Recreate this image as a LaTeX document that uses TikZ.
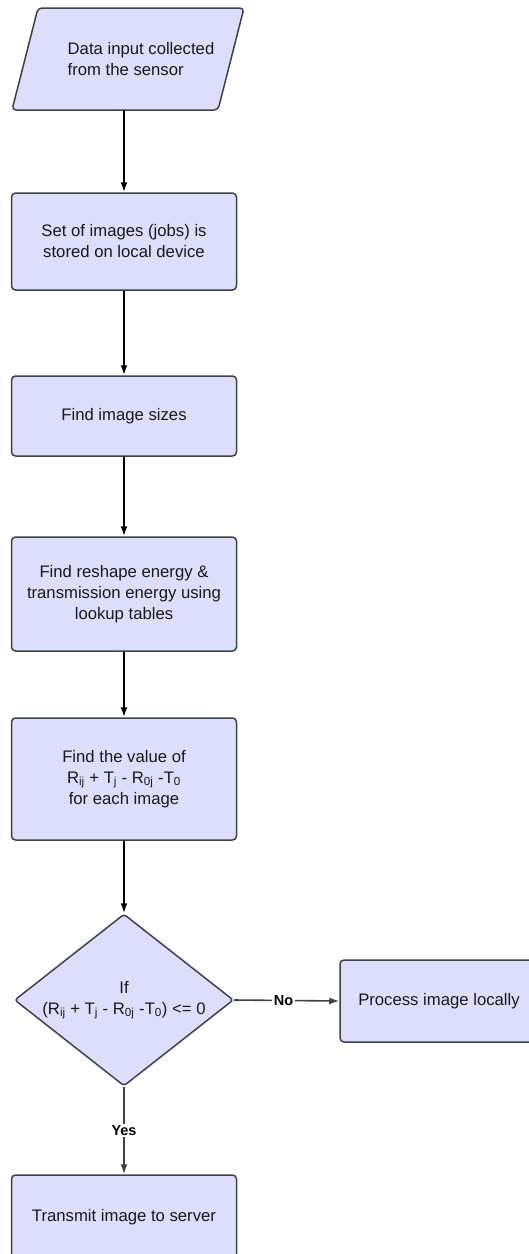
\documentclass[tikz,border=0pt]{standalone}
\usepackage{fontspec}
\setmainfont{Liberation Sans}
\usetikzlibrary{arrows.meta,shapes.geometric}
\definecolor{boxfill}{RGB}{221,222,251}
\definecolor{boxline}{RGB}{61,66,74}
\definecolor{txt}{RGB}{25,25,25}
\begin{document}
\begin{tikzpicture}[x=1pt,y=-1pt,
 proc/.style={draw=boxline, fill=boxfill, line width=1.5pt, rounded corners=4pt, minimum width=225pt, inner sep=0, align=center, font=\fontsize{16.7}{21}\selectfont, text=txt},
 plain/.style={align=center, font=\fontsize{16.7}{21}\selectfont, text=txt, inner sep=0},
 flow/.style={draw=black, line width=1.8pt, -{Latex[length=10pt,width=7pt]}},
 flowg/.style={draw=boxline, line width=1.6pt, -{Latex[length=10pt,width=7pt]}},
 lbl/.style={fill=white, inner sep=1.5pt, font=\bfseries\fontsize{14.5}{17}\selectfont, text=black}]
\useasboundingbox (0,0) rectangle (528,1254);
% input parallelogram
\draw[draw=boxline, fill=boxfill, line width=1.5pt, rounded corners=4pt] (38,8) -- (244,8) -- (218,110) -- (12,110) -- cycle;
\node[inner sep=0, minimum width=206pt, minimum height=102pt] (input) at (128,59) {};
\node[plain, align=left] (inputtxt) at (141,59) {Data input collected\\from the sensor};
% process boxes
\node[proc, minimum height=97pt] (store) at (124,241.5) {Set of images (jobs) is\\stored on local device};
\node[proc, minimum height=80pt] (sizes) at (124,416) {Find image sizes};
\node[proc, minimum height=114pt] (energy) at (124,594) {Find reshape energy \&\\transmission energy using\\lookup tables};
\node[proc, minimum height=122pt] (value) at (124,779) {Find the value of\\R\textsubscript{ij} + T\textsubscript{j} - R\textsubscript{0j} -T\textsubscript{0}\\for each image};
% decision
\node[diamond, draw=boxline, fill=boxfill, line width=1.5pt, rounded corners=3pt, minimum width=219pt, minimum height=172pt, inner sep=0] (dec) at (124,1000) {};
\node[plain] (dectxt) at (dec.center) {If\\(R\textsubscript{ij} + T\textsubscript{j} - R\textsubscript{0j} -T\textsubscript{0}) <= 0};
\node[proc, minimum width=198pt, minimum height=82pt] (local) at (439,1001) {Process image locally};
\node[proc, minimum height=84pt] (server) at (124,1217) {Transmit image to server};
% connectors
\draw[flow] (input.south -| store.north) -- (store.north);
\draw[flow] (store) -- (sizes);
\draw[flow] (sizes) -- (energy);
\draw[flow] (energy) -- (value);
\draw[flow] (value) -- (dec);
\draw[flowg] (dec.east) -- node[lbl, pos=0.47]{No} (local.west);
\draw[flowg] (dec.south) -- node[lbl]{Yes} (server.north);
\end{tikzpicture}
\end{document}
